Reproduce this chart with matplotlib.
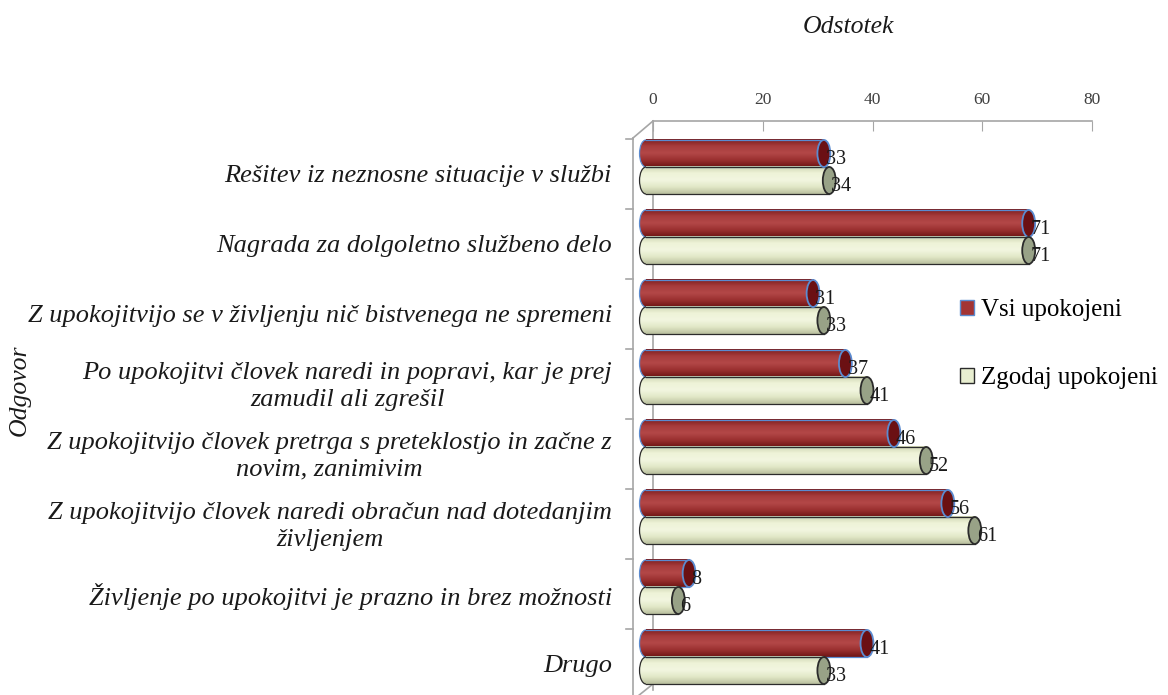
import numpy as np
import matplotlib.pyplot as plt
from matplotlib.patches import Ellipse, Patch
from matplotlib.colors import LinearSegmentedColormap
from matplotlib.transforms import blended_transform_factory

# Data
categories = [
    "Rešitev iz neznosne situacije v službi",
    "Nagrada za dolgoletno službeno delo",
    "Z upokojitvijo se v življenju nič bistvenega ne spremeni",
    "Po upokojitvi človek naredi in popravi, kar je prej\nzamudil ali zgrešil",
    "Z upokojitvijo človek pretrga s preteklostjo in začne z\nnovim, zanimivim",
    "Z upokojitvijo človek naredi obračun nad dotedanjim\nživljenjem",
    "Življenje po upokojitvi je prazno in brez možnosti",
    "Drugo",
]
vsi_upokojeni = [33, 71, 31, 37, 46, 56, 8, 41]
zgodaj_upokojeni = [34, 71, 33, 41, 52, 61, 6, 33]
series_names = ["Vsi upokojeni", "Zgodaj upokojeni"]
x_ticks = [0, 20, 40, 60, 80]

plt.rcParams["font.family"] = ["Liberation Serif", "DejaVu Serif"]

W, H = 1168, 695
fig = plt.figure(figsize=(W / 100, H / 100), dpi=100)

# overlay in pixel coordinates for the 3D "wall" lines
over = fig.add_axes([0, 0, 1, 1], zorder=0)
over.set_xlim(0, W)
over.set_ylim(H, 0)
over.axis("off")
wall = "#a6a6a6"
over.plot([633, 633], [138, 700], color=wall, lw=1.2)
over.plot([653, 653], [121, 690], color=wall, lw=1.2)
over.plot([633, 653], [138, 121], color=wall, lw=1.2)
over.plot([633, 653], [700, 684], color=wall, lw=1.2)
for k in range(9):
    yb = 139 + 70 * k
    over.plot([626, 633], [yb, yb], color=wall, lw=1.2)

# top value axis (back wall, slightly shifted right)
top = fig.add_axes([653 / W, 1 - 121 / H, (1092 - 653) / W, 0.0001], zorder=1)
top.set_xlim(0, 80)
top.set_xticks(x_ticks)
top.set_yticks([])
for s in ["left", "right", "bottom"]:
    top.spines[s].set_visible(False)
top.spines["top"].set_color(wall)
top.spines["top"].set_linewidth(1.2)
top.xaxis.tick_top()
top.tick_params(axis="x", direction="in", length=7, color=wall, labelsize=12.5,
                labelcolor="#404040", pad=9)
top.patch.set_alpha(0)

# main bar axes (x = 0 sits at pixel 646, 5.39 px per unit)
px_per_unit = 5.39
x_min = -1.6
ax_left = 646 + x_min * px_per_unit
ax_right = 646 + 80 * px_per_unit
ax = fig.add_axes([ax_left / W, 1 - 699 / H, (ax_right - ax_left) / W, 560 / H], zorder=2)
ax.patch.set_alpha(0)
ax.axis("off")
ax.set_autoscale_on(False)
ax.set_xlim(x_min, 80)
ax.set_ylim(len(categories), 0)

bar_h = 0.386
cap_w = 2.4
grad = np.linspace(0, 1, 128).reshape(-1, 1)

red_cmap = LinearSegmentedColormap.from_list(
    "red", ["#7a1c1c", "#a83c3c", "#b34848", "#9a3030", "#6e1414"])
green_cmap = LinearSegmentedColormap.from_list(
    "green", ["#cdd3b0", "#eef3d8", "#f2f6e0", "#e1e7c6", "#b9bf9e"])

styles = [
    dict(cmap=red_cmap, cap="#6b1013", edge="#5b8bd0"),
    dict(cmap=green_cmap, cap="#98a287", edge="#2b2b2b"),
]


def cylinder(y0, v, st):
    yc = y0 + bar_h / 2
    # body
    ax.imshow(grad, extent=(0, v, y0 + bar_h, y0), aspect="auto",
              cmap=st["cmap"], origin="upper", zorder=2, interpolation="bilinear")
    # rounded left end
    im = ax.imshow(grad, extent=(-cap_w / 2, 0.05, y0 + bar_h, y0), aspect="auto",
                   cmap=st["cmap"], origin="upper", zorder=2, interpolation="bilinear")
    left = Ellipse((0, yc), cap_w, bar_h, transform=ax.transData)
    im.set_clip_path(left)
    ax.add_patch(Ellipse((0, yc), cap_w, bar_h, facecolor="none",
                         edgecolor=st["edge"], lw=0.9, zorder=2.5))
    ax.imshow(grad, extent=(0, cap_w / 2 + 0.1, y0 + bar_h, y0), aspect="auto",
              cmap=st["cmap"], origin="upper", zorder=2.6, interpolation="bilinear")
    ax.plot([0, v], [y0, y0], color=st["edge"], lw=0.9, zorder=3)
    ax.plot([0, v], [y0 + bar_h, y0 + bar_h], color=st["edge"], lw=0.9, zorder=3)
    # end cap
    ax.add_patch(Ellipse((v, yc), cap_w, bar_h, facecolor=st["cap"],
                         edgecolor=st["edge"], lw=1.3, zorder=4, clip_on=False))
    ax.text(v + 0.4, yc + 0.08, f"{v}", fontsize=14.5, color="#1a1a1a",
            ha="left", va="center", zorder=5)


for i, (a, b) in enumerate(zip(vsi_upokojeni, zgodaj_upokojeni)):
    cylinder(i + 0.014, a, styles[0])
    cylinder(i + 0.014 + bar_h, b, styles[1])

# category labels
lab_tr = blended_transform_factory(fig.transFigure, ax.transData)
for i, cat in enumerate(categories):
    ax.text(612 / W, i + 0.53, cat, transform=lab_tr, ha="right", va="center",
            multialignment="center", fontsize=19, style="italic", color="#1a1a1a",
            linespacing=1.3, clip_on=False)

# titles
fig.text(848 / W, 1 - 27 / H, "Odstotek", ha="center", va="center",
         fontsize=18.5, style="italic", color="#1a1a1a")
fig.text(20 / W, 1 - 390 / H, "Odgovor", ha="center", va="center", rotation=90,
         fontsize=18.5, style="italic", color="#1a1a1a")

# legend
handles = [
    Patch(facecolor="#a33434", edgecolor="#5b8bd0", lw=1.0),
    Patch(facecolor="#e8eed0", edgecolor="#2b2b2b", lw=1.0),
]
fig.legend(handles, series_names, loc="upper left",
           bbox_to_anchor=(960 / W, 1 - 299 / H), frameon=False,
           fontsize=18, handlelength=0.55, handleheight=0.55, handletextpad=0.3,
           labelspacing=1.85, borderaxespad=0, borderpad=0)

fig.savefig("out.png", dpi=100)
plt.close(fig)
